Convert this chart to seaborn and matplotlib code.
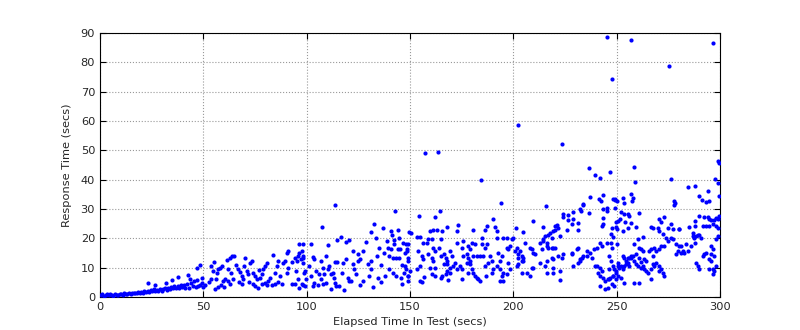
import matplotlib
matplotlib.use("Agg")
import matplotlib.pyplot as plt
import pandas as pd
import seaborn as sns

# (elapsed secs, response secs), grouped by 50 s span
pts_000_050 = [
    (0.5, 0.7), (1.2, 0.9), (2, 0.5), (2.8, 0.8), (3.5, 1.0), (4.2, 0.6), (5, 0.9), (5.8, 0.7),
    (6.5, 0.5), (7.3, 1.0), (8, 0.8), (8.8, 0.6), (9.5, 1.1), (10.3, 0.9), (11, 0.7), (11.8, 1.2),
    (12.5, 0.9), (13.3, 1.1), (14, 1.3), (14.8, 1.0), (15.5, 1.4), (16.3, 1.2), (17, 1.5),
    (17.8, 1.3), (18.5, 1.6), (19.3, 1.4), (20, 1.8), (20.8, 1.5), (21.5, 1.9), (22.3, 1.7),
    (23, 2.1), (23.2, 4.8), (23.8, 1.8), (24.5, 2.3), (25.3, 2.0), (26, 2.6), (26.6, 4.1),
    (26.8, 1.9), (27.5, 2.5), (28.3, 2.2), (29, 2.8), (29.8, 2.0), (30.5, 2.6), (31.3, 3.0),
    (32, 4.8), (32.2, 2.4), (33, 3.2), (33.8, 2.7), (34.8, 5.8), (34.5, 3.4), (35.3, 2.9),
    (36, 3.6), (36.8, 3.1), (37.7, 6.8), (37.5, 3.8), (38.3, 3.2), (39, 4.0), (39.8, 3.4),
    (40.5, 4.2), (41.3, 3.0), (42, 4.5), (42.6, 7.5), (43, 3.0), (43.5, 6.2), (44, 4.8),
    (44.8, 3.6), (45.5, 5.5), (46.3, 3.4), (46.8, 9.9), (47, 5.8), (47.6, 3.75), (48.4, 10.9),
    (48.5, 4.0), (49.2, 6.6), (49.5, 4.9), (50, 3.5),
]

pts_050_100 = [
    (50.8, 4.0), (53.7, 10.6), (55.3, 11.9), (54.8, 8.9), (56.5, 8.3), (56, 6.25), (57.3, 9.4),
    (58, 10), (58.9, 10.6), (55.6, 2.6), (57.3, 3.5), (58.5, 4), (59.7, 5.5), (60.5, 6),
    (61.8, 5.5), (61.3, 12.5), (62.9, 13.4), (64, 14), (65, 14), (62.1, 9.4), (63.4, 8.1),
    (64.5, 6), (66.9, 9.4), (67.7, 8.5), (67.3, 5.1), (68.5, 7.2), (69.3, 6), (68.5, 4.3),
    (69.8, 10.6), (71, 8.9), (72.6, 11.7), (73.4, 12.3), (71.8, 7.7), (74.2, 8.3), (75, 7.2),
    (75.8, 6), (74.2, 4.3), (75, 3.75), (76.6, 3.2), (77.4, 6.6), (78.2, 7.7), (79, 9.4),
    (79.8, 10.6), (80.6, 11.7), (78.2, 4.3), (79.8, 4.9), (81.5, 5.5), (82.3, 6.6), (83, 4),
    (84.7, 4.3), (83.9, 14.2), (85.9, 12.3), (84.7, 8.3), (85.5, 10.6), (88.7, 11.7),
    (89.5, 12.3), (90.3, 15.1), (91.1, 15.7), (90.3, 8.3), (91.1, 10), (92.7, 4.3), (94.4, 4.3),
    (96, 6), (97.6, 4.3), (99.2, 3.75), (94.4, 13.4), (96, 14), (95.2, 12.3), (97.6, 15.7),
    (98.4, 13.4), (96.3, 18.2), (98.4, 11.7), (99.2, 8.9), (52.5, 5.2), (53.5, 6.0),
    (60.2, 3.3), (63, 4.6), (66, 11), (70.2, 13.2), (72.2, 5), (76.8, 9.2), (81, 4.2),
    (86.2, 5), (87.3, 7), (88, 4.6), (92.8, 12), (94.8, 9),
]

pts_100_150 = [
    (113.9, 31.4), (142.9, 29.3), (107.4, 23.9), (102.1, 18), (98, 18), (96.5, 15.1), (98, 14),
    (97.3, 12.8), (103.2, 13.6), (103.7, 12.8), (101.3, 10.6), (98.9, 8.3), (102.1, 7.2),
    (99.7, 6), (98, 4), (96.5, 3.2), (104.5, 8.9), (106.1, 7.7), (103.7, 4.9), (105.3, 4),
    (102.9, 3.75), (106.9, 12.3), (107.7, 10), (109.4, 14), (110.2, 9.4), (110.2, 17.6),
    (108.5, 7.7), (107.7, 4.3), (106.9, 6), (109.4, 4.9), (111, 10.6), (111.8, 7.7),
    (112.6, 8.3), (113.4, 6.6), (113.9, 11.9), (114.5, 11.9), (114.2, 3.75), (115.8, 3.75),
    (113.9, 4.9), (114.7, 19.3), (116.6, 20.6), (117.4, 11.7), (117.1, 8.3), (119, 12.8),
    (119.8, 6.6), (120.6, 5.5), (121.4, 5.5), (119, 18.8), (120.6, 19.3), (122.3, 15.7),
    (122.3, 11.1), (123.1, 9.4), (124.7, 14.5), (124.7, 12.3), (125.8, 12.8), (127.1, 15.7),
    (127.1, 5.5), (128.7, 18.8), (129.5, 11.1), (131.1, 12.3), (131.1, 22.2), (132.7, 24.8),
    (133.5, 20.2), (131.1, 9.4), (134.2, 14), (135, 16.8), (134.7, 6.6), (136.9, 23.6),
    (138.7, 19.1), (137.6, 15.1), (139.2, 16.8), (140, 14), (140.8, 16.3), (141.6, 13.4),
    (138, 7.2), (140, 9.4), (141.6, 8.3), (143.2, 7.2), (145.6, 6.6), (140.8, 22.5),
    (141.3, 21), (142.4, 18), (144, 23), (144.8, 20.2), (142.4, 19.6), (143.2, 13.4),
    (144.8, 13.4), (145.3, 16.5), (144, 16.5), (146.5, 18.5), (148, 18), (148.4, 15.7),
    (148.9, 13.4), (148, 9.4), (148.9, 7.2), (147.3, 8.3), (149.7, 22.2), (118, 2.5),
    (126, 4), (132, 3.5), (136, 5), (146, 4.5), (130, 7), (124, 8), (136, 11), (146, 11),
    (112, 2.8),
]

pts_150_200 = [
    (157.3, 49), (163.4, 49.4), (184.4, 39.9), (194, 32), (154.4, 27.5), (162.1, 27.3),
    (164.5, 29.3), (150.5, 21.9), (153.2, 20.6), (154.8, 20.6), (159.7, 22.5), (161.3, 22.7),
    (162.9, 22.8), (165.6, 22.5), (167.7, 23.9), (172.6, 22.5), (173.4, 24.5), (180.6, 23),
    (186.3, 23), (187.1, 24.2), (190, 26.7), (191.1, 24), (192.3, 22.5), (149.2, 18),
    (148.4, 16.3), (147.6, 15.1), (149.2, 12.3), (147.6, 10.6), (150, 8.9), (149.2, 7.2),
    (149.2, 5.5), (154, 15.7), (156.5, 18.5), (158.1, 18.5), (155.6, 14), (156.5, 12.8),
    (154.8, 10.6), (153.2, 9.4), (154.8, 5.5), (155.6, 5.1), (158.9, 19.7), (160.5, 19.7),
    (161.3, 16.8), (162.1, 15.7), (160.5, 13.4), (158.9, 14.5), (161.3, 12.3), (162.1, 10),
    (159.7, 10), (160.5, 7.7), (162.1, 7.2), (156.9, 6.9), (164.9, 19.7), (164.1, 16.8),
    (164.9, 14), (166.5, 14.5), (167.3, 13.4), (168.1, 12.3), (166.5, 11.1), (165.7, 7.2),
    (167.3, 7.7), (164.9, 6.6), (169.4, 15.7), (170.2, 14), (167.7, 11.1), (169.4, 10),
    (171, 10.6), (167.7, 8.9), (169.4, 8.3), (168.5, 5.8), (172.6, 9.4), (171.8, 11.7),
    (172.6, 18.5), (175, 16.8), (175.8, 19.1), (178.2, 17.4), (179, 16.3), (177.4, 14.5),
    (179.8, 18.5), (181.5, 17.9), (175.8, 14), (178.2, 13.4), (180.6, 14), (179, 12.3),
    (182.3, 14), (183.9, 14), (185.5, 14), (174.2, 10.6), (175, 9.4), (177.4, 11.7),
    (179, 11.1), (178.2, 8.3), (179.8, 9.4), (180.6, 8.3), (182.3, 6.6), (183.1, 6),
    (183.9, 5.5), (181.5, 7.2), (175, 6), (184.7, 20.2), (187.1, 18), (184.7, 18),
    (186.3, 16.8), (188.7, 14), (187.9, 11.7), (189.5, 12.3), (186.3, 10.6), (186.8, 7.2),
    (189.5, 8.3), (190.3, 9.4), (191.9, 20.2), (195.2, 20.2), (196.8, 20.2), (192.7, 15.1),
    (194.4, 14), (193.5, 12.3), (191.9, 10.6), (193.5, 9.4), (195.2, 8.3), (194.4, 7.2),
    (196.8, 16.8), (197.6, 16.3), (196.8, 7.7), (197.6, 11.5), (193.5, 5.5), (195.2, 5.5),
]

pts_200_250 = [
    (202.2, 58.6), (223.4, 52.2), (236.6, 43.9), (239.5, 41.6), (241.9, 40.5), (246.8, 42.6),
    (215.6, 31), (209.4, 25.9), (201.3, 23.4), (237.1, 34.1), (233.9, 31.6), (233.5, 31.3),
    (241.6, 33.3), (242.3, 32.7), (243.2, 34.7), (223.9, 28.2), (224.2, 27.4), (226.6, 28),
    (229, 29), (232.3, 29.9), (232.6, 29.3), (236.6, 28.5), (243.5, 29.9), (245.2, 30.5),
    (245.5, 29.3), (243.2, 27), (242.7, 24.2), (243.5, 24.8), (247.6, 23.6), (249.2, 33.3),
    (250.3, 32.7), (250.8, 25.9), (250.3, 23.1), (214.5, 23.9), (220.2, 24.2), (221, 24.5),
    (221.8, 23.4), (219.4, 22.5), (217.7, 21.9), (216.9, 21), (218.5, 20.2), (215.3, 20.8),
    (214.5, 19.7), (216.1, 18.5), (222.6, 20.8), (220.2, 23), (225.8, 23), (228.2, 24.8),
    (231.5, 25.3), (231.5, 23), (226.6, 26.2), (229, 26.5), (204.8, 22.2), (205.6, 18.5),
    (203.2, 15.7), (201.6, 16.8), (200, 20.2), (199.2, 19.7), (198.4, 17.4), (200.8, 15.7),
    (202.4, 14.5), (204, 14), (204.8, 13.4), (202.4, 13.4), (204, 12.3), (204.8, 12.3),
    (202.4, 11.1), (204, 8.3), (201.6, 10.6), (198.4, 9.4), (206.5, 8.3), (208.1, 7.2),
    (208.9, 10), (208.1, 16.8), (208.9, 16.3), (209.7, 15.1), (210.5, 14.5), (212.9, 18.5),
    (214.5, 19.1), (213.7, 16.3), (216.1, 17.4), (216.9, 16.8), (218.5, 16.8), (219.4, 16.8),
    (220.2, 16.8), (212.9, 11.7), (216.1, 12.3), (218.5, 13.4), (219.4, 12.8), (221.8, 14),
    (224.2, 14.5), (223.4, 13.4), (228.2, 15.1), (228.2, 14.5), (230.6, 16.3), (231.5, 16.6),
    (233.1, 13.4), (232.3, 12.8), (233.9, 14), (235.5, 14), (238.1, 13.4), (238.9, 16.3),
    (240.5, 16.8), (209.7, 10), (215.3, 10.6), (219.4, 10), (222.6, 8.9), (228.7, 10.6),
    (231.5, 11.7), (232.3, 12.3), (219.4, 8.3), (222.6, 5.8), (216.1, 8.3), (235.5, 15.7),
    (237.1, 15.1), (241.9, 18.5), (243, 17.4), (245.5, 18.5), (247.1, 18.5), (247.9, 16.8),
    (250.3, 17.9), (239.5, 10.6), (240.6, 10.6), (241.9, 10), (242.7, 8.9), (241.1, 8.3),
    (241.9, 7.2), (243.5, 6.6), (244.4, 5.5), (246, 6), (246.8, 6.6), (241.9, 3.75),
    (244.4, 2.8), (246, 3.2), (247.6, 4.3), (248.4, 7.2), (249.7, 8.9), (250.8, 10.6),
    (250.8, 7.2), (245.1, 88.8), (247.5, 74.3),
]

pts_250_300 = [
    (256.7, 87.6), (275.4, 78.8), (296.4, 86.7), (258.5, 44.3), (259, 39.2), (276.3, 40.1),
    (298.9, 46.4), (299.4, 45.8), (297.7, 40.1), (298.9, 39), (284.5, 37.5), (288, 37.8),
    (294.2, 36.1), (299.4, 34.4), (289.7, 34.4), (291.3, 33), (293.2, 32.4), (294.5, 32.7),
    (277.9, 32.7), (278.4, 31.9), (277.6, 31.3), (248.1, 33.3), (249.4, 33), (252.9, 33.6),
    (253.7, 31.9), (249.4, 30.5), (256.9, 35), (257.7, 33.9), (257.4, 32.7), (252.1, 29),
    (253.7, 28.2), (255.3, 28.2), (256.1, 27.6), (254.2, 25.7), (256.9, 25.3), (251.6, 26.7),
    (249.7, 25.6), (260.6, 28.8), (259.4, 23.9), (255.3, 23.6), (252.9, 22.5), (249.7, 23.9),
    (248.1, 20.6), (247.3, 21.4), (270.6, 26.7), (271.4, 25.6), (273, 27.4), (276.3, 25),
    (277.1, 23.3), (274.7, 23.6), (272.3, 21.4), (270.6, 22.5), (269.8, 23.6), (266.6, 23.9),
    (267.4, 23.4), (280.3, 23.3), (280, 23.1), (285.2, 23.9), (286.8, 21.9), (288.1, 24.2),
    (288.1, 25.9), (289.7, 27.6), (292.4, 27.4), (294, 27.4), (294.8, 26.7), (295.6, 26.4),
    (297.2, 26.4), (298.1, 26.9), (298.9, 26.7), (299.7, 27.6), (296.5, 24.8), (294.8, 24.2),
    (293.2, 24.2), (291.6, 24.2), (298.1, 24.2), (298.9, 23.6), (262.6, 20.6), (260.2, 19.7),
    (258.5, 18), (261, 16.8), (261.8, 16.3), (262.6, 15.7), (259.4, 14.5), (257.7, 14),
    (256.9, 13.4), (256.1, 13.4), (255.3, 13.4), (253.7, 13.4), (252.9, 14), (254.5, 12.3),
    (258.5, 12.3), (261, 13.4), (261.8, 11.9), (263.4, 12.8), (264.2, 12.3), (265.8, 15.7),
    (266.6, 16.3), (267.4, 14), (268.2, 16.8), (269, 15.7), (270.6, 16.3), (271.5, 17.4),
    (273.1, 17.4), (273.9, 20.2), (274.7, 19.1), (276.3, 20.2), (277.1, 19.7), (278.7, 18),
    (279.5, 15.7), (280.3, 17.4), (281.1, 17.4), (281.9, 15.7), (278.7, 14.5), (281.1, 15.1),
    (282.7, 15.1), (283.5, 18), (284.4, 15.7), (286, 17.4), (286.8, 20.8), (287.6, 20.2),
    (288.4, 20.8), (289.2, 21), (290, 21), (290.8, 20.2), (292.4, 14.5), (293.2, 15.1),
    (294.8, 12.8), (295.6, 14.5), (296.5, 16.3), (297.3, 14), (298.1, 19.7), (298.9, 20.8),
    (295.6, 17.4), (288.1, 18.5), (246.5, 14), (247.3, 12.3), (248.1, 10.6), (246.5, 9.4),
    (248.9, 9.4), (249.7, 8.3), (250.5, 11.7), (251.3, 10), (252.1, 10.6), (252.9, 9.4),
    (253.7, 10.6), (254.5, 11.1), (255.3, 11.7), (256.1, 10.6), (256.9, 14), (259.4, 11.1),
    (260.2, 10.6), (261.8, 10), (262.6, 10.6), (263.4, 9.4), (264.2, 8.9), (265, 8.3),
    (266.6, 9.4), (267.4, 11.1), (268.2, 10.6), (269, 11.7), (270.6, 10.6), (271.5, 9.4),
    (272.3, 8.3), (273.1, 7.2), (270.6, 8.9), (266.6, 6), (261, 4.9), (258.5, 4.9),
    (253.7, 4.9), (248.9, 3.75), (248.1, 7.2), (249.7, 6), (252.1, 6.6), (246.5, 6),
    (288.4, 11.7), (289.2, 10.6), (290, 9.4), (291.6, 14), (295.6, 12.3), (296.5, 9.4),
    (297.3, 8.9), (298.1, 10.6), (294.8, 9.4), (296.5, 7.7),
]

x_ticks = [0, 50, 100, 150, 200, 250, 300]
y_ticks = [0, 10, 20, 30, 40, 50, 60, 70, 80, 90]


def main():
    all_pts = pts_000_050 + pts_050_100 + pts_100_150 + pts_150_200 + pts_200_250 + pts_250_300
    data = pd.DataFrame(all_pts, columns=["elapsed", "response"])

    sns.set_style("white", rc={
        "xtick.direction": "in",
        "ytick.direction": "in",
        "xtick.top": True,
        "ytick.right": True,
        "xtick.bottom": True,
        "ytick.left": True,
        "axes.edgecolor": "black",
        "axes.linewidth": 1.0,
    })
    plt.rcParams["font.family"] = ["DejaVu Sans"]

    fig = plt.figure(figsize=(8, 3.3), dpi=100)
    ax = fig.add_axes([0.125, 0.1, 0.775, 0.8])

    sns.scatterplot(data=data, x="elapsed", y="response", ax=ax,
                    color="blue", s=9, linewidth=0, zorder=3)

    ax.set_xlim(0, 300)
    ax.set_ylim(0, 90)
    ax.set_xticks(x_ticks)
    ax.set_yticks(y_ticks)
    ax.tick_params(axis="both", which="major", labelsize=8.2, length=4, width=0.8, color="black")
    ax.grid(True, linestyle=":", color="0.6", linewidth=0.8)
    ax.set_axisbelow(True)

    ax.set_xlabel("Elapsed Time In Test (secs)", fontsize=8.2, labelpad=4)
    ax.set_ylabel("Response Time (secs)", fontsize=8.2, labelpad=6)

    fig.savefig("out.png", dpi=100)
    plt.close(fig)


if __name__ == "__main__":
    main()
